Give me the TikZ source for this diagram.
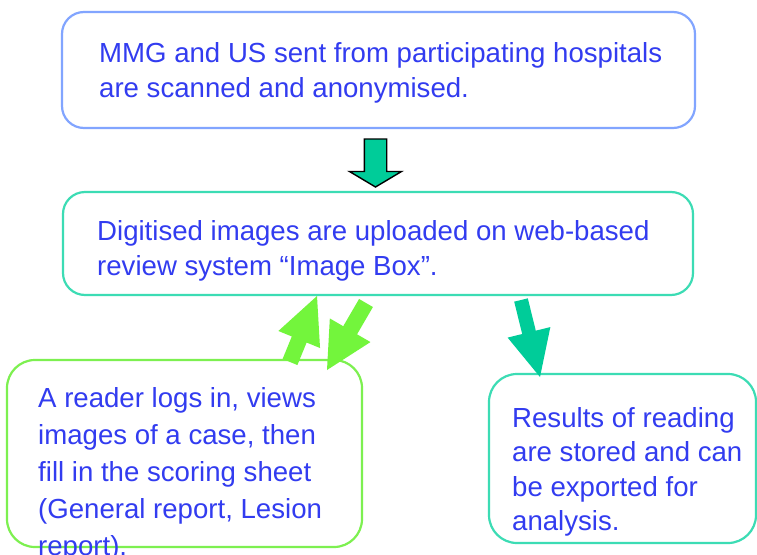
\documentclass[tikz,border=0pt]{standalone}
\usepackage{fontspec}
\setmainfont{Liberation Sans}
\usetikzlibrary{calc}
\definecolor{txtblue}{RGB}{50,60,240}
\definecolor{bluebd}{RGB}{130,165,255}
\definecolor{tealbd}{RGB}{60,220,180}
\definecolor{greenbd}{RGB}{125,240,80}
\definecolor{tealfill}{RGB}{0,204,153}
\definecolor{greenfill}{RGB}{115,245,60}
\newcommand\blockarrow[6]{%
  \coordinate (ba-n) at ($(#3)!#6!(#2)$);
  \draw[#1] ($(#2)!#4!90:(#3)$) -- ($(ba-n)!#4!90:(#3)$) -- ($(ba-n)!#5!90:(#3)$) -- (#3)
    -- ($(ba-n)!#5!-90:(#3)$) -- ($(ba-n)!#4!-90:(#3)$) -- ($(#2)!#4!-90:(#3)$) -- cycle;}
\tikzset{
  boxnode/.style={draw, line width=2.2pt, rounded corners=22pt, fill=white, inner sep=0pt},
  txt/.style={text=txtblue, align=left, inner sep=0pt, anchor=base west},
  darrow/.style={fill=tealfill, draw=black, line width=1.4pt, line join=miter},
  garrow/.style={fill=greenfill, draw=none},
  tarrow/.style={fill=tealfill, draw=none}
}
\begin{document}
\begin{tikzpicture}[x=1pt,y=-1pt]
\useasboundingbox (0,0) rectangle (757,554);
\fill[white] (0,0) rectangle (757,554);
% boxes
\node[boxnode, draw=bluebd, minimum width=633pt, minimum height=116pt] (b1) at (378.5,70) {};
\node[boxnode, draw=tealbd, minimum width=630pt, minimum height=103pt] (b2) at (378,243.5) {};
\node[boxnode, draw=greenbd, rounded corners=28pt, minimum width=355pt, minimum height=187pt] (b3) at (184.5,453.5) {};
\node[boxnode, draw=tealbd, rounded corners=28pt, minimum width=267pt, minimum height=169pt] (b4) at (622.5,458.5) {};
% texts (anchor = baseline of last line)
\node[txt, font=\fontsize{27.6}{35.5}\selectfont] (t1) at (99,97.5) {MMG and US sent from participating hospitals\\are scanned and anonymised.};
\node[txt, font=\fontsize{27.6}{35}\selectfont] (t2) at (97,275) {Digitised images are uploaded on web-based\\review system “Image Box”.};
\node[txt, font=\fontsize{27.6}{37}\selectfont] (t3) at (38,555) {A reader logs in, views\\images of a case, then\\fill in the scoring sheet\\(General report, Lesion\\report).};
\node[txt, font=\fontsize{27.6}{34.5}\selectfont] (t4) at (512,530.5) {Results of reading\\are stored and can\\be exported for\\analysis.};
% arrow end points
\coordinate (a1s) at (375.5,139);
\coordinate (a1e) at (375.5,187);
\coordinate (a2s) at (290,362);
\coordinate (a2e) at (317,296);
\coordinate (a3s) at (366,303);
\coordinate (a3e) at (327,370);
\coordinate (a4s) at (521,300);
\coordinate (a4e) at (540,377);
% arrows
\blockarrow{darrow}{a1s}{a1e}{11.2pt}{26pt}{15.5pt}
\blockarrow{garrow}{a2s}{a2e}{8pt}{22.5pt}{47pt}
\blockarrow{garrow}{a3s}{a3e}{8pt}{23.5pt}{46pt}
\blockarrow{tarrow}{a4s}{a4e}{7pt}{22pt}{46pt}
\end{tikzpicture}
\end{document}
